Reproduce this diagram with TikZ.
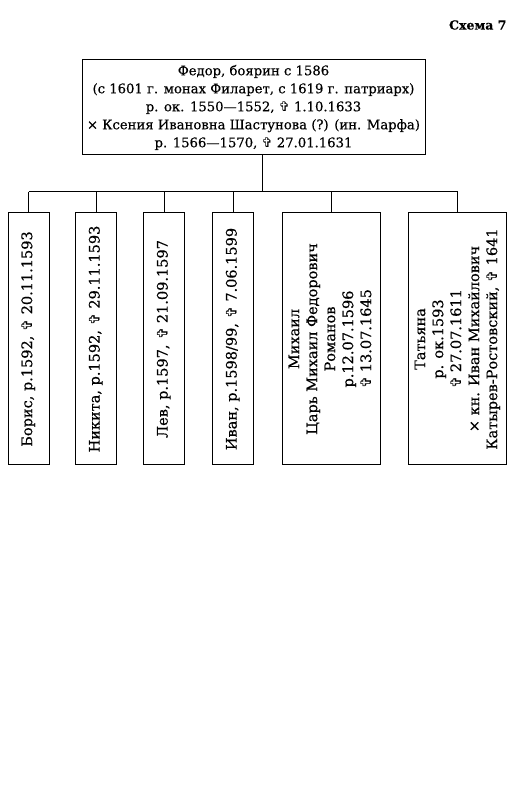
\documentclass[tikz,border=0pt]{standalone}
\usepackage{fontspec}
\setmainfont{DejaVu Serif}[FakeBold=0.5]
\newfontfamily\crossfont{DejaVu Sans}
\usepackage{graphicx}
\usetikzlibrary{calc}
\newcommand{\dcr}{{\crossfont ✞}}
\newcommand{\vtext}[1]{\rotatebox{90}{\begin{tabular}{@{}c@{}}#1\end{tabular}}}
\tikzstyle{ParentNode}=[rectangle, draw=black, line width=1pt, minimum width=343pt, minimum height=95pt, align=center, font=\fontsize{13.2}{18}\selectfont]
\tikzstyle{ChildNode}=[rectangle, draw=black, line width=1pt, minimum height=252pt, inner sep=0pt, font=\fontsize{14.5}{18}\selectfont]
\tikzstyle{NarrowNode}=[ChildNode, minimum width=41pt]
\tikzstyle{WideNode}=[ChildNode, minimum width=98pt]
\tikzstyle{LinkEdge}=[line width=1pt]

\begin{document}
\begin{tikzpicture}[x=1pt, y=1pt]
\useasboundingbox (0,0) rectangle (522,800);
\node[font=\bfseries\fontsize{12.5}{14}\selectfont, anchor=east](Title) at (510,775) {Схема 7};

\node[ParentNode](Fedor) at (253.5,692.5) {Федор, боярин с 1586\\
(с 1601 г. монах Филарет, с 1619 г. патриарх)\\
р. ок. 1550—1552, \dcr{} 1.10.1633\\
× Ксения Ивановна Шастунова (?) (ин. Марфа)\\
р. 1566—1570, \dcr{} 27.01.1631};
\coordinate (Stem) at (262,608);

\node[NarrowNode](Boris) at (28.5,461) {\vtext{Борис, р.1592, \dcr{} 20.11.1593}};
\node[NarrowNode](Nikita) at (96,461) {\vtext{Никита, р.1592, \dcr{} 29.11.1593}};
\node[NarrowNode](Lev) at (164,461) {\vtext{Лев, р.1597, \dcr{} 21.09.1597}};
\node[NarrowNode](Ivan) at (233,461) {\vtext{Иван, р.1598/99, \dcr{} 7.06.1599}};
\node[WideNode](Mikhail) at (331.5,461) {\vtext{Михаил\\ Царь Михаил Федорович\\ Романов\\ р.12.07.1596\\ \dcr{} 13.07.1645}};
\node[WideNode](Tatiana) at (457.5,461) {\vtext{Татьяна\\ р. ок.1593\\ \dcr{} 27.07.1611\\ × кн. Иван Михайлович\\ Катырев-Ростовский, \dcr{} 1641}};

\draw[LinkEdge](Fedor.south -| Stem) -- (Stem);
\draw[LinkEdge](Stem -| Boris.north) -- (Stem -| Tatiana.north);
\foreach \n in {Boris,Nikita,Lev,Ivan,Mikhail,Tatiana}
  \draw[LinkEdge](Stem -| \n.north) -- (\n.north);
\end{tikzpicture}
\end{document}
